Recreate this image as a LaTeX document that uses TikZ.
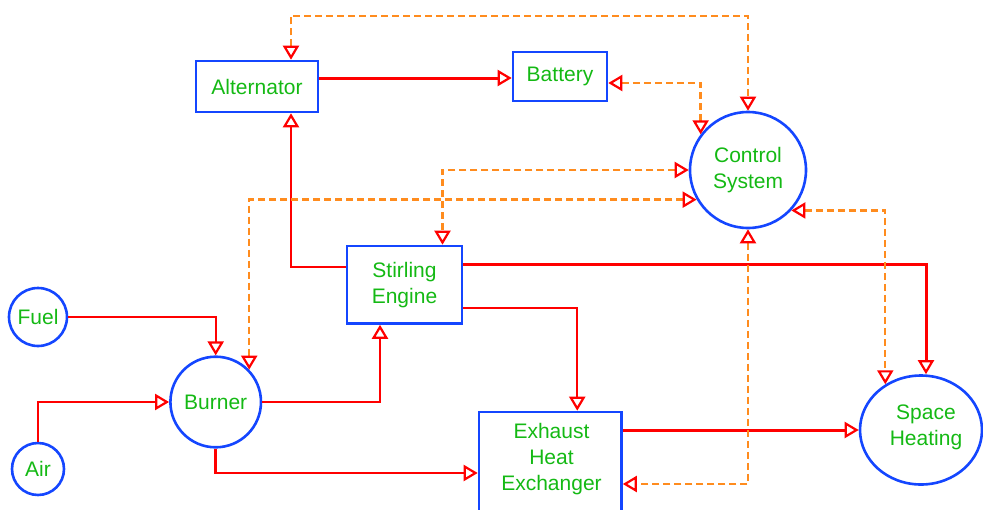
\documentclass[tikz,border=0pt]{standalone}
\usepackage{fontspec}
\setmainfont{Liberation Sans}
\usetikzlibrary{arrows.meta,shapes.geometric}
\definecolor{nblue}{RGB}{20,70,255}
\definecolor{ngreen}{RGB}{20,185,20}
\definecolor{nred}{RGB}{255,0,0}
\definecolor{norange}{RGB}{255,140,30}
\begin{document}
\begin{tikzpicture}[x=1pt,y=-1pt,
  lbl/.style={text=ngreen,align=center,font=\fontsize{21}{26}\selectfont,inner sep=0pt},
  box/.style={lbl,draw=nblue,line width=2.6pt,rectangle},
  rnd/.style={lbl,draw=nblue,line width=2.6pt,circle},
  oval/.style={lbl,draw=nblue,line width=2.6pt,ellipse},
  flow/.style={draw=nred,line width=2.3pt,-{Triangle[open,length=14pt,width=16pt,line width=2.2pt]}},
  flowthick/.style={flow,line width=3pt},
  ctl/.style={draw=norange,line width=2.4pt,dash pattern=on 7pt off 4pt,
    {Triangle[open,length=14pt,width=16pt,line width=2.2pt,color=nred]}-{Triangle[open,length=14pt,width=16pt,line width=2.2pt,color=nred]}}]
\useasboundingbox (0,0) rectangle (983,509);

% nodes
\node[box,minimum width=122pt,minimum height=51pt] (alt) at (257,86.5) {Alternator};
\node[box,minimum width=94pt,minimum height=49pt] (bat) at (560,76.5) {Battery};
\node[rnd,minimum size=116pt] (ctrl) at (748,170) {Control\\System};
\node[box,minimum width=115pt,minimum height=77.5pt] (stir) at (404.5,284.75) {Stirling\\Engine};
\node[rnd,minimum size=58pt] (fuel) at (38,317) {Fuel};
\node[rnd,minimum size=52pt] (air) at (38,469) {Air};
\node[rnd,minimum size=90.6pt] (burn) at (215.7,402) {Burner};
\node[box,minimum width=142.5pt,minimum height=116pt] (exh) at (550.25,470) {};
\node[lbl] (exhlbl) at (551.5,459) {Exhaust\\Heat\\Exchanger};
\node[oval,minimum width=122pt,minimum height=109pt] (space) at (921,430) {};
\node[lbl] (spacelbl) at (926,427) {Space\\Heating};

% red flows
\coordinate (a1) at ([yshift=8.5pt]alt.east);
\draw[flowthick] (a1) -- (a1 -| bat.west);
\coordinate (s1) at ([yshift=17.75pt]stir.west);
\coordinate (a2) at ([xshift=34pt]alt.south);
\draw[flow] (s1) -| (a2);
\coordinate (s2) at ([yshift=20.75pt]stir.east);
\draw[flowthick] (s2) -| ([xshift=5pt]space.north);
\coordinate (s3) at ([yshift=-23.5pt]stir.east);
\draw[flow] (s3) -| ([xshift=27pt]exh.north);
\draw[flow] (fuel.east) -| (burn.north);
\draw[flow] (air.north) |- (burn.west);
\draw[flow,line width=2.6pt] (burn.east) -| ([xshift=-24.5pt]stir.south);
\coordinate (e1) at ([yshift=-3pt]exh.west);
\draw[flow,line width=2.6pt] (burn.south) |- (e1);
\coordinate (e2) at ([yshift=40pt]exh.east);
\draw[flowthick] (e2) -- (e2 -| space.west);

% control signals
\draw[ctl] ([xshift=34pt]alt.north) -- ++(0,-44) -| (ctrl.north);
\coordinate (b1) at ([yshift=-6.5pt]bat.east);
\draw[ctl] (b1) -| (ctrl.143);
\draw[ctl] (ctrl.west) -| ([xshift=38pt]stir.north);
\draw[ctl] (ctrl.210) -| (burn.44);
\draw[ctl] (ctrl.-43.6) -| (space.128);
\draw[ctl] (ctrl.south) |- ([yshift=-14pt]exh.east);
\end{tikzpicture}
\end{document}
